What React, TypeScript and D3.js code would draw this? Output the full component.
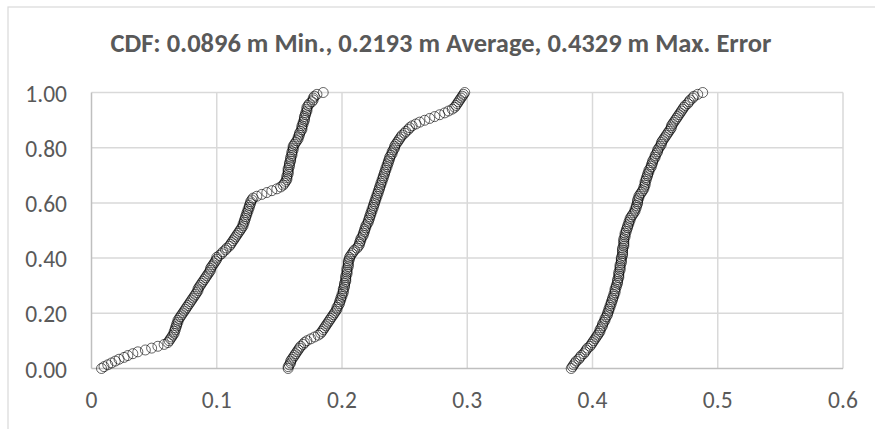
import { scaleLinear } from "d3";

const width = 875;
const height = 429;

const title = "CDF: 0.0896 m Min., 0.2193 m Average, 0.4329 m Max. Error";

const xTicks = [0, 0.1, 0.2, 0.3, 0.4, 0.5, 0.6];
const yTicks = [0, 0.2, 0.4, 0.6, 0.8, 1.0];

// sorted error values (m) for each run
const minRun = [
  0.008, 0.01, 0.013, 0.016, 0.019, 0.022, 0.026, 0.029, 0.033, 0.037,
  0.043, 0.048, 0.053, 0.058, 0.061, 0.062, 0.063, 0.064, 0.065, 0.066,
  0.066, 0.067, 0.067, 0.068, 0.068, 0.069, 0.069, 0.07, 0.071, 0.072,
  0.073, 0.074, 0.075, 0.076, 0.077, 0.078, 0.079, 0.08, 0.081, 0.082,
  0.083, 0.084, 0.085, 0.085, 0.086, 0.087, 0.088, 0.089, 0.09, 0.091,
  0.092, 0.093, 0.094, 0.095, 0.095, 0.096, 0.097, 0.098, 0.099, 0.1,
  0.1, 0.102, 0.104, 0.105, 0.107, 0.108, 0.11, 0.111, 0.112, 0.113,
  0.114, 0.115, 0.116, 0.117, 0.118, 0.119, 0.12, 0.121, 0.121, 0.122,
  0.122, 0.123, 0.123, 0.124, 0.124, 0.125, 0.125, 0.126, 0.126, 0.127,
  0.127, 0.128, 0.129, 0.132, 0.136, 0.14, 0.144, 0.148, 0.151, 0.153,
  0.154, 0.155, 0.156, 0.156, 0.156, 0.157, 0.157, 0.157, 0.157, 0.158,
  0.158, 0.158, 0.159, 0.159, 0.159, 0.16, 0.16, 0.16, 0.161, 0.161,
  0.161, 0.162, 0.163, 0.164, 0.165, 0.165, 0.166, 0.166, 0.167, 0.168,
  0.168, 0.168, 0.169, 0.169, 0.17, 0.17, 0.17, 0.171, 0.171, 0.172,
  0.172, 0.172, 0.173, 0.174, 0.176, 0.177, 0.177, 0.178, 0.18, 0.185,
];

const avgRun = [
  0.157, 0.157, 0.158, 0.159, 0.159, 0.16, 0.161, 0.162, 0.163, 0.164,
  0.165, 0.166, 0.167, 0.169, 0.17, 0.172, 0.175, 0.178, 0.181, 0.183,
  0.184, 0.185, 0.186, 0.187, 0.188, 0.189, 0.19, 0.191, 0.192, 0.193,
  0.194, 0.195, 0.196, 0.196, 0.197, 0.198, 0.198, 0.199, 0.199, 0.2,
  0.2, 0.201, 0.201, 0.201, 0.202, 0.202, 0.202, 0.203, 0.203, 0.203,
  0.203, 0.204, 0.204, 0.204, 0.204, 0.205, 0.205, 0.205, 0.205, 0.206,
  0.206, 0.207, 0.208, 0.209, 0.21, 0.212, 0.213, 0.214, 0.214, 0.215,
  0.215, 0.216, 0.217, 0.217, 0.218, 0.218, 0.219, 0.219, 0.22, 0.221,
  0.221, 0.222, 0.222, 0.223, 0.223, 0.224, 0.224, 0.225, 0.225, 0.226,
  0.226, 0.227, 0.227, 0.228, 0.228, 0.229, 0.229, 0.23, 0.23, 0.231,
  0.231, 0.232, 0.232, 0.233, 0.233, 0.234, 0.234, 0.235, 0.235, 0.236,
  0.236, 0.237, 0.237, 0.238, 0.238, 0.239, 0.24, 0.24, 0.241, 0.242,
  0.242, 0.243, 0.244, 0.245, 0.246, 0.247, 0.248, 0.25, 0.251, 0.253,
  0.254, 0.256, 0.259, 0.262, 0.266, 0.27, 0.274, 0.278, 0.282, 0.285,
  0.288, 0.29, 0.291, 0.292, 0.293, 0.294, 0.295, 0.296, 0.297, 0.298,
];

const maxRun = [
  0.383, 0.384, 0.385, 0.386, 0.387, 0.389, 0.39, 0.391, 0.393, 0.394,
  0.395, 0.396, 0.398, 0.399, 0.4, 0.401, 0.402, 0.403, 0.404, 0.405,
  0.406, 0.406, 0.407, 0.408, 0.408, 0.409, 0.41, 0.41, 0.411, 0.412,
  0.412, 0.413, 0.413, 0.414, 0.414, 0.415, 0.415, 0.416, 0.416, 0.417,
  0.417, 0.418, 0.418, 0.418, 0.419, 0.419, 0.42, 0.42, 0.42, 0.421,
  0.421, 0.421, 0.421, 0.422, 0.422, 0.422, 0.422, 0.423, 0.423, 0.423,
  0.423, 0.424, 0.424, 0.424, 0.424, 0.424, 0.425, 0.425, 0.425, 0.425,
  0.425, 0.426, 0.426, 0.426, 0.427, 0.427, 0.428, 0.428, 0.429, 0.429,
  0.43, 0.43, 0.431, 0.432, 0.433, 0.434, 0.434, 0.435, 0.435, 0.436,
  0.436, 0.436, 0.437, 0.437, 0.438, 0.439, 0.44, 0.441, 0.441, 0.442,
  0.442, 0.442, 0.443, 0.443, 0.444, 0.444, 0.445, 0.445, 0.446, 0.447,
  0.447, 0.448, 0.448, 0.449, 0.45, 0.45, 0.451, 0.452, 0.452, 0.453,
  0.454, 0.455, 0.455, 0.456, 0.457, 0.458, 0.459, 0.46, 0.461, 0.462,
  0.463, 0.463, 0.464, 0.465, 0.466, 0.467, 0.468, 0.469, 0.47, 0.471,
  0.472, 0.473, 0.474, 0.476, 0.477, 0.478, 0.48, 0.481, 0.484, 0.488,
];

const runs = [minRun, avgRun, maxRun];

const font = "Carlito, Calibri, 'Open Sans', sans-serif";
const textColor = "#595959";

const x = scaleLinear().domain([0, 0.6]).range([91.5, 843]);
const y = scaleLinear().domain([0, 1]).range([368.5, 92.5]);

const App = () => {
  return (
    <svg
      width={width}
      height={height}
      style={{ position: "absolute", left: 0, top: 0, background: "#fff" }}
    >
      <rect x={8} y={7} width={1000} height={1000} fill="#fff" stroke="#d9d9d9" strokeWidth={1.2} />
      <text
        x={441}
        y={52}
        textAnchor="middle"
        fontFamily={font}
        fontWeight="bold"
        fontSize={26.5}
        fill={textColor}
      >
        {title}
      </text>

      {/* grid */}
      {yTicks.slice(1).map((t) => (
        <line key={"h" + t} x1={x(0)} x2={x(0.6)} y1={y(t)} y2={y(t)} stroke="#d9d9d9" strokeWidth={1.5} />
      ))}
      {xTicks.slice(1).map((t) => (
        <line key={"v" + t} x1={x(t)} x2={x(t)} y1={y(0)} y2={y(1)} stroke="#d9d9d9" strokeWidth={1.5} />
      ))}
      <line x1={x(0)} x2={x(0)} y1={y(0)} y2={y(1)} stroke="#bfbfbf" strokeWidth={1.5} />
      <line x1={x(0)} x2={x(0.6)} y1={y(0)} y2={y(0)} stroke="#bfbfbf" strokeWidth={1.5} />

      {/* tick labels */}
      {yTicks.map((t) => (
        <text
          key={"yl" + t}
          x={67}
          y={y(t) + 9}
          textAnchor="end"
          fontFamily={font}
          fontSize={23.5}
          fill={textColor}
        >
          {t.toFixed(2)}
        </text>
      ))}
      {xTicks.map((t) => (
        <text
          key={"xl" + t}
          x={x(t)}
          y={408}
          textAnchor="middle"
          fontFamily={font}
          fontSize={23.5}
          fill={textColor}
        >
          {String(t)}
        </text>
      ))}

      {/* CDF markers */}
      {runs.map((run, ri) =>
        run.map((v, i) => (
          <circle
            key={ri + "-" + i}
            cx={x(v)}
            cy={y(i / (run.length - 1))}
            r={5}
            fill="none"
            stroke="#000"
            strokeOpacity={0.6}
            strokeWidth={1}
          />
        ))
      )}
    </svg>
  );
};

export default App;
